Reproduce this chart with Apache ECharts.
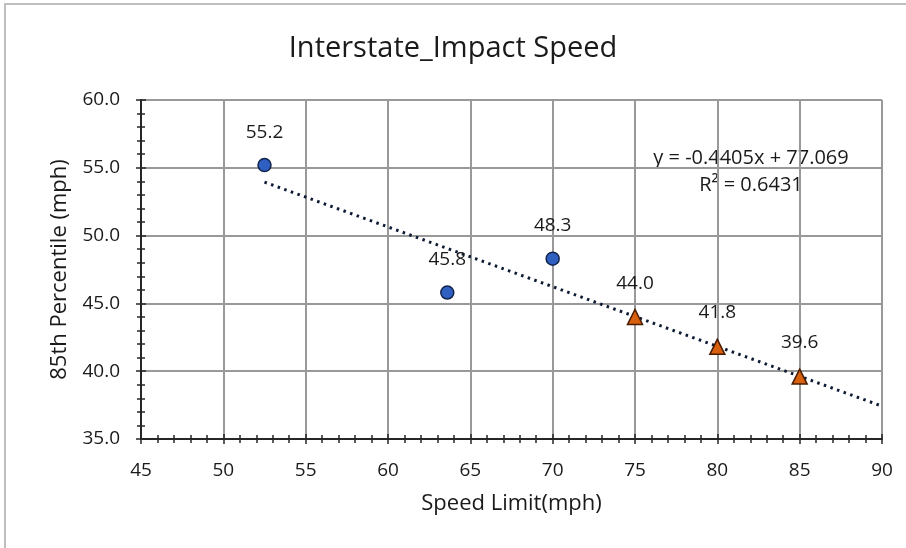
<!DOCTYPE html>
<html><head><meta charset="utf-8">
<script src="https://cdn.jsdelivr.net/npm/echarts@6/dist/echarts.min.js"></script>
<style>html,body{margin:0;padding:0;background:#fff}#c{width:906px;height:548px}</style>
</head><body><div id="c"></div>
<script>
const title = 'Interstate_Impact Speed';
const xName = 'Speed Limit(mph)';
const yName = '85th Percentile (mph)';
const circleX = [52.5, 63.6, 70];
const circleY = [55.2, 45.8, 48.3];
const triX = [75, 80, 85];
const triY = [44.0, 41.8, 39.6];
const trendSlope = -0.4405;
const trendIntercept = 77.069;
const trendRange = [52.5, 90];
const eqText = 'y = -0.4405x + 77.069';
const r2Text = 'R² = 0.6431';

const font = '"Open Sans", "Noto Sans", sans-serif';
const chart = echarts.init(document.getElementById('c'));
const pair = (xs, ys) => xs.map((x, i) => [x, ys[i]]);
const trendData = trendRange.map(x => [x, trendSlope * x + trendIntercept]);
const lbl = {show: true, position: 'top', distance: 16, color: '#1a1a1a', fontSize: 19, fontFamily: font,
  formatter: p => p.value[1].toFixed(1)};
const axisCommon = {
  axisLine: {lineStyle: {color: '#262626', width: 2}},
  splitLine: {show: true, lineStyle: {color: '#999999', width: 2}},
  minorTick: {show: true, splitNumber: 5, length: 4, lineStyle: {color: '#262626', width: 1.5}},
  axisTick: {length: 5, lineStyle: {color: '#262626', width: 1.5}},
};
const innerTicks = {
  axisLine: {show: false}, splitLine: {show: false}, axisLabel: {show: false},
  axisTick: {inside: true, length: 5, lineStyle: {color: '#262626', width: 1.5}},
  minorTick: {show: true, splitNumber: 5, length: 4, lineStyle: {color: '#262626', width: 1.5}},
};
chart.setOption({
  animation: false,
  backgroundColor: '#fff',
  title: {text: title, left: 'center', top: 29, textStyle: {fontFamily: font, fontWeight: 'normal', fontSize: 29, color: '#1a1a1a'}},
  grid: {left: 141, right: 24, top: 100, bottom: 109},
  xAxis: [
    Object.assign({type: 'value', min: 45, max: 90, interval: 5, name: xName, nameLocation: 'middle', nameGap: 54,
      nameTextStyle: {fontFamily: font, fontSize: 22, color: '#1a1a1a'},
      axisLabel: {margin: 22, fontSize: 19, fontFamily: font, color: '#1a1a1a'}}, axisCommon),
    Object.assign({type: 'value', min: 45, max: 90, interval: 5, position: 'bottom'}, innerTicks)
  ],
  yAxis: [
    Object.assign({type: 'value', min: 35, max: 60, interval: 5, name: yName, nameLocation: 'middle', nameGap: 70,
      nameTextStyle: {fontFamily: font, fontSize: 22, color: '#1a1a1a'},
      axisLabel: {margin: 21, fontSize: 19, fontFamily: font, color: '#1a1a1a', formatter: v => v.toFixed(1)}}, axisCommon),
    Object.assign({type: 'value', min: 35, max: 60, interval: 5, position: 'left'}, innerTicks)
  ],
  graphic: [
    {type: 'rect', shape: {x: 5, y: 4, width: 1000, height: 1000}, style: {fill: 'none', stroke: '#bfbfbf', lineWidth: 2}, z: -1},
    {type: 'text', x: 751, y: 158, style: {text: eqText, fontSize: 20, fontFamily: font, fill: '#1a1a1a', align: 'center', verticalAlign: 'middle'}},
    {type: 'text', x: 751, y: 185, style: {text: r2Text, fontSize: 20, fontFamily: font, fill: '#1a1a1a', align: 'center', verticalAlign: 'middle'}}
  ],
  series: [
    {type: 'line', data: trendData, symbol: 'none', z: 3,
      lineStyle: {color: '#0d1a33', width: 3, type: [2.5, 4.5]}},
    {type: 'scatter', data: pair(circleX, circleY), symbol: 'circle', symbolSize: 13, z: 4,
      itemStyle: {color: '#2e5fc1', borderColor: '#13244a', borderWidth: 1.5, opacity: 1}, label: lbl},
    {type: 'scatter', data: pair(triX, triY), symbol: 'triangle', symbolSize: 15, z: 4,
      itemStyle: {color: '#d9600f', borderColor: '#4a1c00', borderWidth: 1.5, opacity: 1}, label: lbl}
  ]
});
</script></body></html>
